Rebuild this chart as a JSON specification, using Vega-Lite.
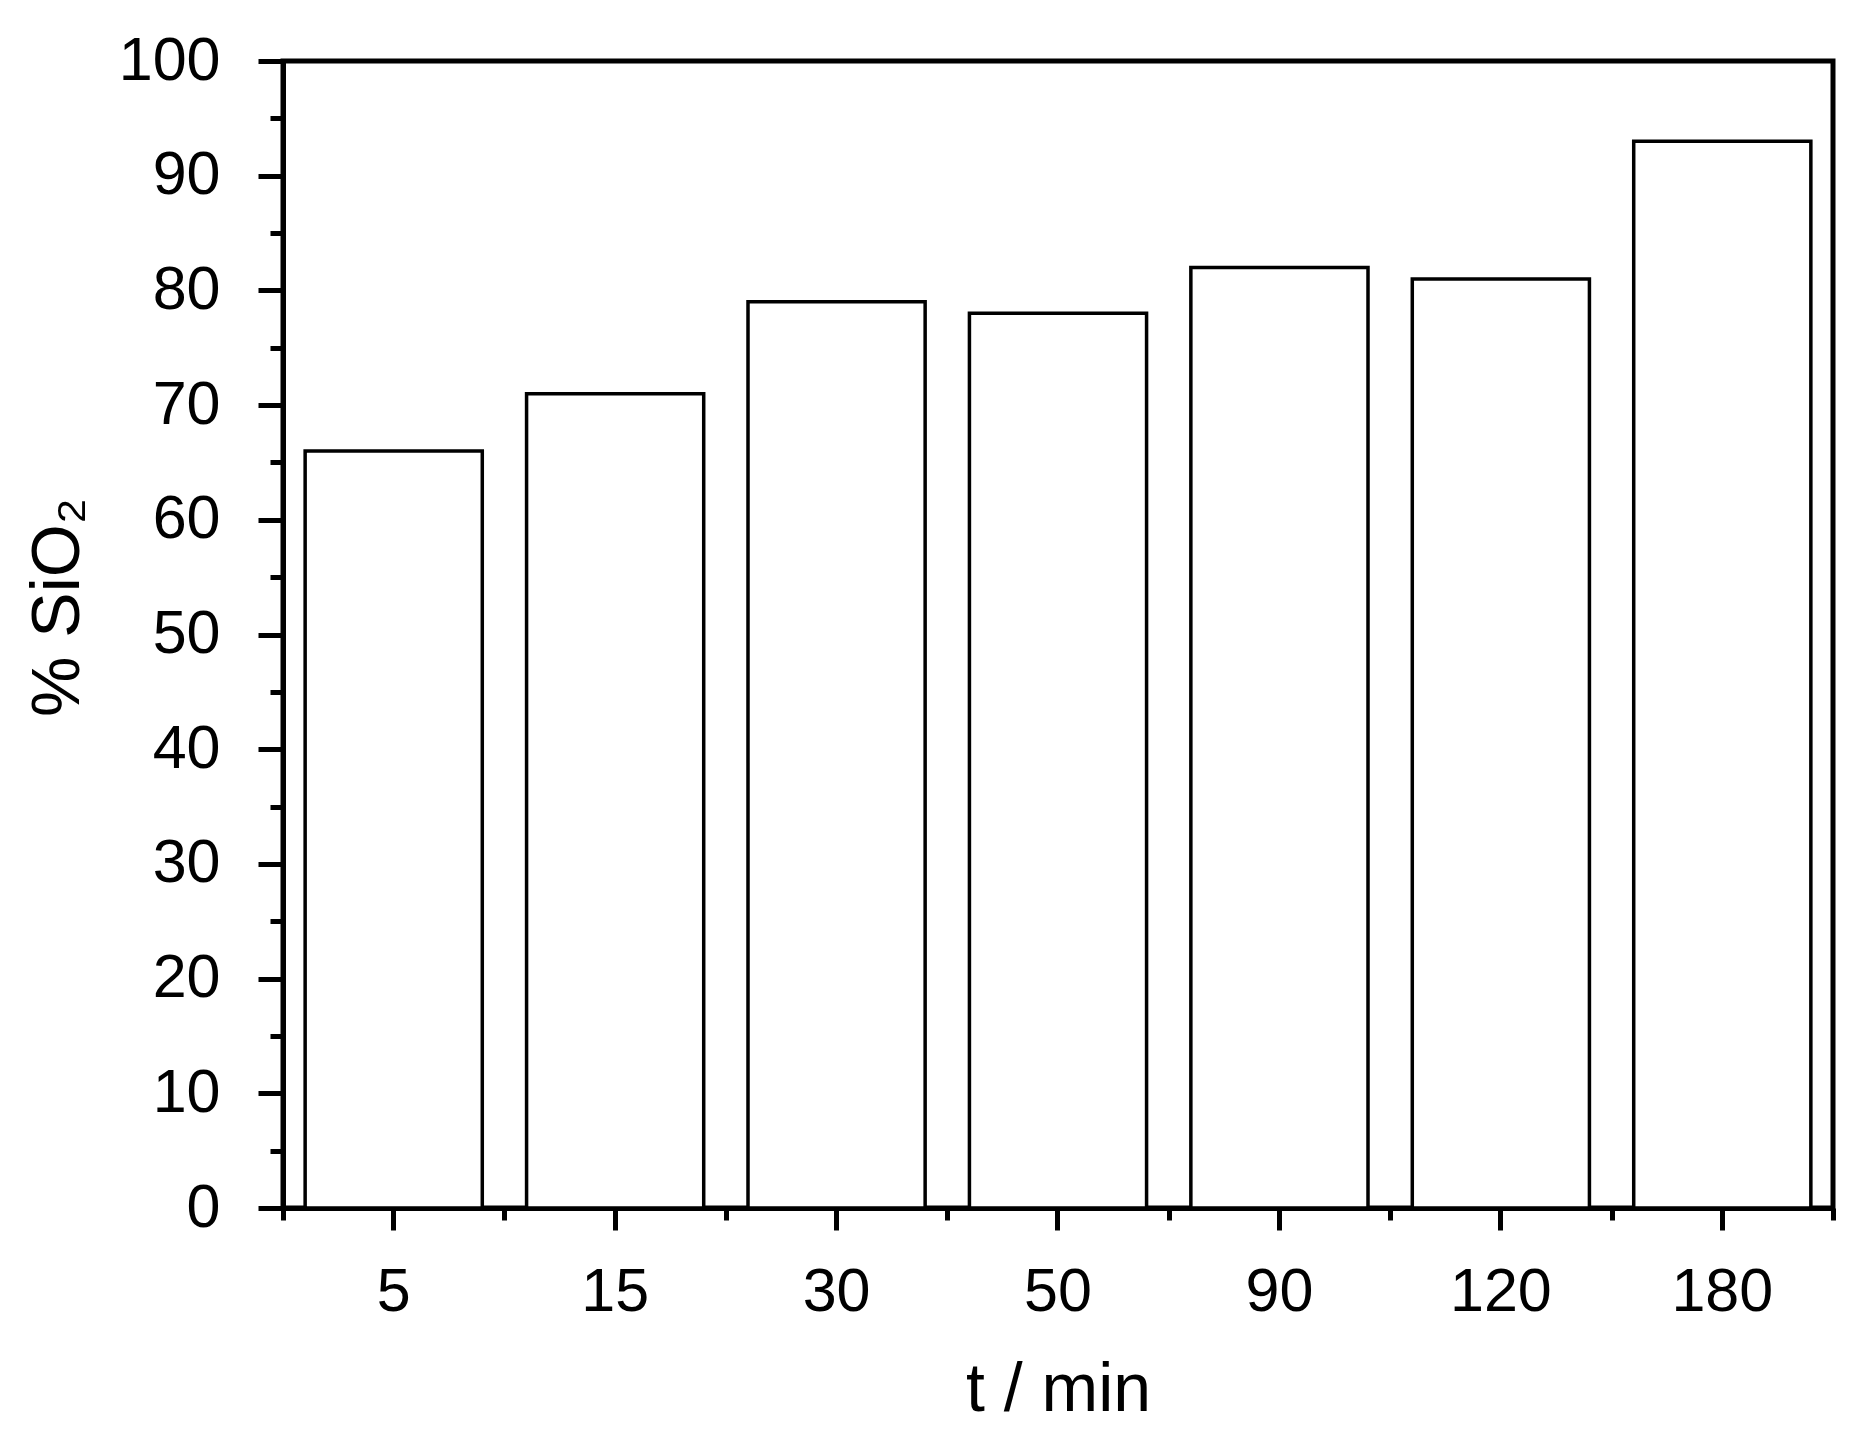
{
  "$schema": "https://vega.github.io/schema/vega-lite/v6.json",
  "autosize": "none",
  "width": 1550,
  "height": 1147,
  "padding": {"left": 283, "top": 61, "right": 43, "bottom": 235},
  "background": "white",
  "config": {
    "font": "Liberation Sans",
    "view": {"stroke": "black", "strokeWidth": 5},
    "axis": {
      "domainColor": "black",
      "domainWidth": 5,
      "tickColor": "black",
      "tickWidth": 5,
      "labelColor": "black",
      "titleColor": "black",
      "labelFont": "Liberation Sans",
      "titleFont": "Liberation Sans",
      "labelFontSize": 61,
      "titleFontSize": 68,
      "titleFontWeight": "normal",
      "grid": false
    }
  },
  "data": {
    "values": [
      {"t": "5", "sio2": 66},
      {"t": "15", "sio2": 71},
      {"t": "30", "sio2": 79},
      {"t": "50", "sio2": 78},
      {"t": "90", "sio2": 82},
      {"t": "120", "sio2": 81},
      {"t": "180", "sio2": 93}
    ]
  },
  "layer": [
    {
      "mark": {"type": "bar", "fill": "white", "stroke": "black", "strokeWidth": 3.5, "width": {"band": 0.8}},
      "encoding": {
        "x": {
          "field": "t",
          "type": "ordinal",
          "sort": null,
          "scale": {"paddingInner": 0, "paddingOuter": 0},
          "axis": {
            "orient": "bottom",
            "title": "t / min",
            "labelAngle": 0,
            "tickSize": 22,
            "labelBaseline": "alphabetic",
            "labelPadding": 80,
            "titleBaseline": "alphabetic",
            "titleY": 202
          }
        },
        "y": {
          "field": "sio2",
          "type": "quantitative",
          "scale": {"domain": [0, 100], "nice": false},
          "axis": {
            "orient": "left",
            "title": "% SiO₂",
            "values": [0, 10, 20, 30, 40, 50, 60, 70, 80, 90, 100],
            "tickSize": 25,
            "labelPadding": 38,
            "titleAngle": 270,
            "titleBaseline": "alphabetic",
            "titleX": -205,
            "titleY": 546
          }
        }
      }
    },
    {
      "mark": {"type": "bar", "fillOpacity": 0, "strokeOpacity": 0, "width": {"band": 0.8}},
      "encoding": {
        "x": {
          "field": "t",
          "type": "ordinal",
          "sort": null,
          "axis": {
            "orient": "bottom",
            "title": null,
            "labels": false,
            "domain": false,
            "tickBand": "extent",
            "tickSize": 12
          }
        },
        "y": {
          "field": "sio2",
          "type": "quantitative",
          "axis": {
            "orient": "left",
            "title": null,
            "labels": false,
            "domain": false,
            "values": [5, 15, 25, 35, 45, 55, 65, 75, 85, 95],
            "tickSize": 13
          }
        }
      }
    }
  ],
  "resolve": {"axis": {"x": "independent", "y": "independent"}}
}
